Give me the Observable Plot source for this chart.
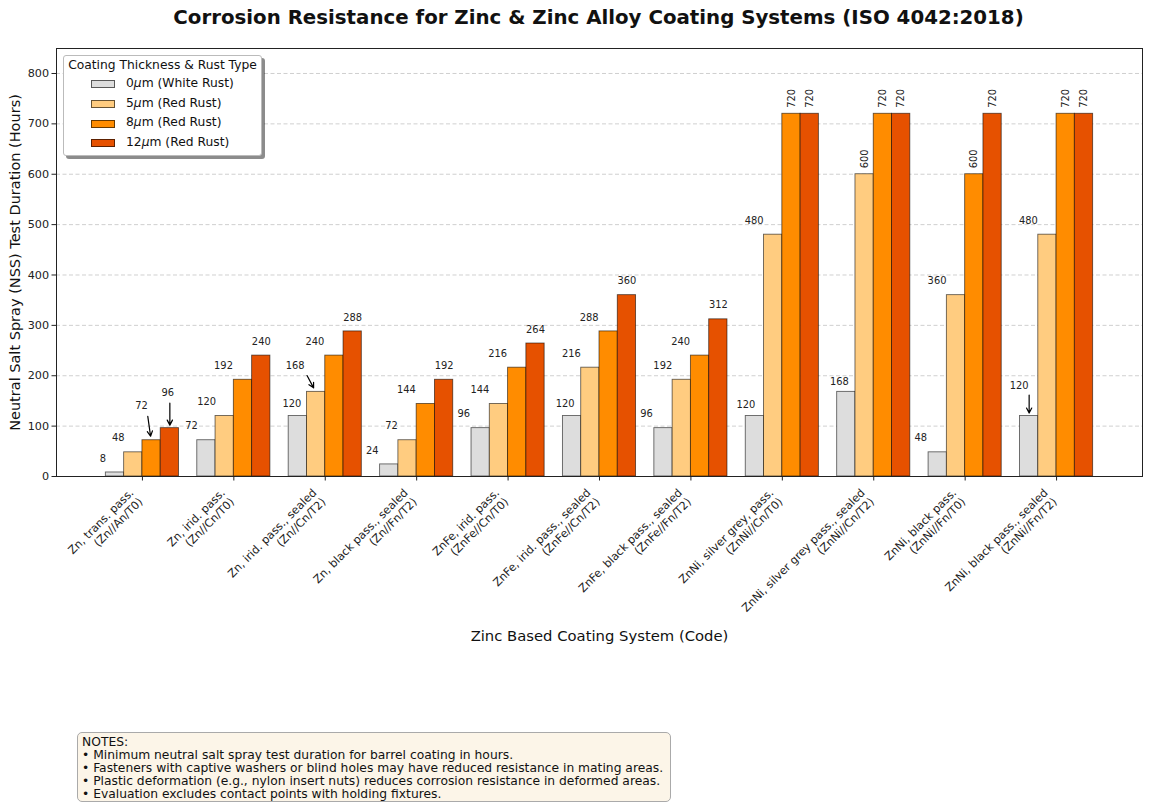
<!DOCTYPE html>
<html><head><meta charset="utf-8">
<script src="https://cdn.jsdelivr.net/npm/d3@7"></script>
<script src="https://cdn.jsdelivr.net/npm/@observablehq/plot@0.6"></script>
<style>
body{margin:0;background:#fff;font-family:"DejaVu Sans",sans-serif;color:#111;}
#wrap{position:relative;width:1150px;height:808px;overflow:hidden;}
#title{position:absolute;left:0;top:6px;width:1197px;text-align:center;font-weight:bold;font-size:19.8px;line-height:23px;white-space:nowrap;}
#chart{position:absolute;left:0;top:36px;}
#legend{position:absolute;left:63px;top:55px;width:199px;height:101px;box-sizing:border-box;border:1px solid #bbb;border-radius:3px;background:#fff;box-shadow:3px 3px 0 rgba(0,0,0,0.45);font-size:12.3px;}
#legend .lt{position:absolute;left:0;width:197px;top:2px;text-align:center;line-height:15px;white-space:nowrap;}
#legend .sw{position:absolute;left:27px;width:24px;height:8px;box-sizing:border-box;border:1px solid rgba(0,0,0,0.6);}
#legend .lb{position:absolute;left:62px;line-height:15px;white-space:nowrap;}
#notes{position:absolute;left:77px;top:732px;width:594px;height:70px;box-sizing:border-box;border:1px solid #aaa;border-radius:5px;background:#fcf5e8;padding:2.5px 4px 0 4px;font-size:12.3px;line-height:13.1px;white-space:nowrap;}
</style></head>
<body>
<div id="wrap">
  <div id="title"></div>
  <div id="chart"></div>
  <div id="legend"></div>
  <div id="notes"></div>
</div>
<script>
// ---- data ----
const chartTitle = "Corrosion Resistance for Zinc & Zinc Alloy Coating Systems (ISO 4042:2018)";
const categories = ["Zn, trans. pass.", "Zn, irid. pass.", "Zn, irid. pass., sealed", "Zn, black pass., sealed",
  "ZnFe, irid. pass.", "ZnFe, irid. pass., sealed", "ZnFe, black pass., sealed", "ZnNi, silver grey, pass.",
  "ZnNi, silver grey pass., sealed", "ZnNi, black pass.", "ZnNi, black pass., sealed"];
const codes = ["(Zn//An/T0)", "(Zn//Cn/T0)", "(Zn//Cn/T2)", "(Zn//Fn/T2)", "(ZnFe//Cn/T0)", "(ZnFe//Cn/T2)",
  "(ZnFe//Fn/T2)", "(ZnNi//Cn/T0)", "(ZnNi//Cn/T2)", "(ZnNi//Fn/T0)", "(ZnNi//Fn/T2)"];
const seriesNames = ["0μm (White Rust)", "5μm (Red Rust)", "8μm (Red Rust)", "12μm (Red Rust)"];
const white0um = [8, 72, 120, 24, 96, 120, 96, 120, 168, 48, 120];
const red5um = [48, 120, 168, 72, 144, 216, 192, 480, 600, 360, 480];
const red8um = [72, 192, 240, 144, 216, 288, 240, 720, 720, 600, 720];
const red12um = [96, 240, 288, 192, 264, 360, 312, 720, 720, 720, 720];
const yTicks = [0, 100, 200, 300, 400, 500, 600, 700, 800];
const notes = ["NOTES:",
  "• Minimum neutral salt spray test duration for barrel coating in hours.",
  "• Fasteners with captive washers or blind holes may have reduced resistance in mating areas.",
  "• Plastic deformation (e.g., nylon insert nuts) reduces corrosion resistance in deformed areas.",
  "• Evaluation excludes contact points with holding fixtures."];
const xLabel = "Zinc Based Coating System (Code)";
const yLabel = "Neutral Salt Spray (NSS) Test Duration (Hours)";

// ---- styles ----
const colors = ["#DDDDDD", "#FFCC80", "#FF8C00", "#E65100"];
const barW = 0.2;
const defaultDx = [-17, -19, -19.5, 0];
// label placement tweaks (pixel offsets) and arrows, keyed "category,series"
const labelTweaks = {
  "0,0": {dx: -12}, "0,1": {dx: -15},
  "0,2": {dx: -10, dy: -34, arrow: {len: 20, rot: 172, dx: -1, dy: -4}},
  "0,3": {dx: -2, dy: -35, arrow: {len: 22, rot: 180, dx: 0, dy: -3}},
  "1,0": {dx: -15}, "1,1": {dx: -18},
  "2,0": {dx: -6, dy: -12},
  "2,1": {dx: -21, dy: -26, arrow: {len: 14, rot: 152, dx: -2.5, dy: -4}},
  "3,1": {dx: -16},
  "5,0": {dx: -7, dy: -12}, "7,0": {dx: -9, dy: -11}, "8,0": {dx: -7, dy: -10},
  "10,0": {dx: -10, dy: -30, arrow: {len: 18, rot: 180, dx: 0, dy: -3}}
};

const seriesValues = [white0um, red5um, red8um, red12um];
const rows = [];
categories.forEach((c, ci) => seriesValues.forEach((vals, si) => {
  rows.push({ci, si, series: seriesNames[si], value: vals[ci]});
}));
const center = d => d.ci + (d.si - 1.5) * barW;

const arrowShape = {
  draw(ctx, l) {
    ctx.moveTo(0, 0); ctx.lineTo(0, -l);
    ctx.moveTo(-2.6, 5 - l); ctx.lineTo(0, -l); ctx.lineTo(2.6, 5 - l);
  }
};

const labelMarks = [];
rows.forEach(d => {
  const t = labelTweaks[d.ci + "," + d.si] || {};
  if (d.value >= 600) {
    labelMarks.push(Plot.text([d], {x: center, y: "value", text: d => String(d.value), rotate: -90,
      textAnchor: "start", lineAnchor: "middle", dy: -6, fontSize: 9.9, fill: "#222"}));
  } else {
    labelMarks.push(Plot.text([d], {x: center, y: "value", text: d => String(d.value),
      dx: t.dx ?? defaultDx[d.si], dy: t.dy ?? -14, fontSize: 9.9, fill: "#222", lineAnchor: "middle"}));
  }
  if (t.arrow) {
    labelMarks.push(Plot.vector([d], {x: center, y: "value", length: t.arrow.len, rotate: t.arrow.rot,
      anchor: "end", shape: arrowShape, dx: t.arrow.dx, dy: t.arrow.dy, stroke: "#000", strokeWidth: 1.2}));
  }
});

const catIdx = categories.map((c, i) => i);

const plot = Plot.plot({
  width: 1150, height: 610,
  marginTop: 12, marginLeft: 56, marginRight: 8, marginBottom: 170,
  style: {fontFamily: "DejaVu Sans, sans-serif", background: "transparent", overflow: "visible"},
  x: {type: "linear", domain: [-0.94, 10.94]},
  y: {domain: [0, 849.6], label: null},
  color: {domain: seriesNames, range: colors},
  marks: [
    Plot.gridY(yTicks, {stroke: "#b0b0b0", strokeOpacity: 0.75, strokeDasharray: "4,2.5", strokeWidth: 0.8}),
    Plot.rect(rows, {x1: d => d.ci + (d.si - 2) * barW, x2: d => d.ci + (d.si - 1) * barW, y1: 0, y2: "value",
      fill: "series", stroke: "#000", strokeOpacity: 0.6, strokeWidth: 0.9}),
    ...labelMarks,
    Plot.frame({stroke: "#222", strokeWidth: 1}),
    Plot.axisY(yTicks, {tickSize: 4.5, tickPadding: 3, fontSize: 11.2, label: null, stroke: "#222", fill: "#222", tickFormat: d => String(d)}),
    Plot.axisX(catIdx, {tickSize: 4.5, tickFormat: () => "", label: null, stroke: "#222"}),
    Plot.text(catIdx, {x: d => d, text: i => categories[i] + "\n" + codes[i], frameAnchor: "bottom",
      rotate: -45, textAnchor: "end", lineAnchor: "bottom", dy: 26, dx: 1, fontSize: 11.2, fill: "#222", lineHeight: 1.15}),
    Plot.text([xLabel], {frameAnchor: "bottom", textAnchor: "middle", dy: 164.5, fontSize: 14.8, fill: "#111"}),
    Plot.text([yLabel], {frameAnchor: "left", textAnchor: "middle", lineAnchor: "middle", dx: -41, rotate: -90, fontSize: 14.5, fill: "#111"})
  ]
});
document.getElementById("chart").appendChild(plot);
document.getElementById("title").textContent = chartTitle;

// legend
const lg = document.getElementById("legend");
const lt = document.createElement("div"); lt.className = "lt"; lt.textContent = "Coating Thickness & Rust Type"; lg.appendChild(lt);
seriesNames.forEach((s, i) => {
  const yc = 28.3 + i * 19.7;
  const sw = document.createElement("div"); sw.className = "sw";
  sw.style.top = (yc - 4) + "px"; sw.style.background = colors[i]; lg.appendChild(sw);
  const lb = document.createElement("div"); lb.className = "lb"; lb.style.top = (yc - 8.5) + "px";
  const m = s.match(/^(\d+)μ(.*)$/);
  lb.append(m[1]); const it = document.createElement("i"); it.textContent = "μ"; lb.append(it); lb.append(m[2]);
  lg.appendChild(lb);
});
// notes
const nb = document.getElementById("notes");
notes.forEach(n => { const d = document.createElement("div"); d.textContent = n; nb.appendChild(d); });
</script>
</body></html>
